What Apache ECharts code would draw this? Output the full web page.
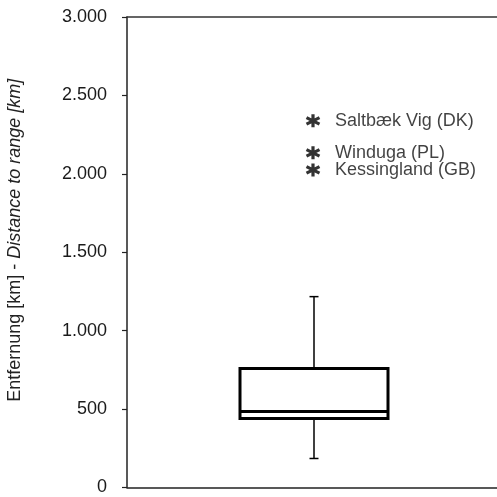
<!DOCTYPE html>
<html><head><meta charset="utf-8">
<script src="https://cdn.jsdelivr.net/npm/echarts@6/dist/echarts.min.js"></script>
<style>html,body{margin:0;padding:0;background:#fff}#c{width:497px;height:497px}</style>
</head><body><div id="c"></div>
<script>
const categories = [''];
// [lowerWhisker, Q1, median, Q3, upperWhisker]
const boxValues = [[185, 440, 484, 758, 1217]];
const outlierNames = ['Saltbæk Vig (DK)', 'Winduga (PL)', 'Kessingland (GB)'];
const outlierValues = [2338, 2134, 2025];
const yTicks = [0, 500, 1000, 1500, 2000, 2500, 3000];

const FONT = 'Liberation Sans, Arial, sans-serif';
const fmt = v => v === 0 ? '0' : String(v).replace(/\B(?=(\d{3})+(?!\d))/g, '.');
const star = 'path://M0,-10L0,10M-8.7,-5L8.7,5M-8.7,5L8.7,-5';

const chart = echarts.init(document.getElementById('c'), null, {renderer: 'canvas'});
chart.setOption({
  animation: false,
  grid: {left: 127, right: 0, top: 17, bottom: 9.5, containLabel: false, outerBoundsMode: 'none'},
  xAxis: [
    {type: 'category', data: categories, position: 'bottom',
     axisLine: {show: true, lineStyle: {color: '#222', width: 1.5}},
     axisTick: {show: false}, axisLabel: {show: false}, splitLine: {show: false}},
    {type: 'category', data: categories, position: 'top',
     axisLine: {show: true, lineStyle: {color: '#333', width: 1.5}},
     axisTick: {show: false}, axisLabel: {show: false}, splitLine: {show: false}}
  ],
  yAxis: {
    type: 'value', min: yTicks[0], max: yTicks[yTicks.length - 1], interval: 500,
    axisLine: {show: true, lineStyle: {color: '#222', width: 1.5}},
    axisTick: {show: true, length: 5, inside: false, lineStyle: {color: '#222', width: 1.2}},
    splitLine: {show: false},
    axisLabel: {formatter: fmt, color: '#1a1a1a', fontSize: 18, fontFamily: FONT, margin: 20},
    name: '{n|Entfernung [km] - }{i|Distance to range [km]}',
    nameLocation: 'middle', nameGap: 103, nameRotate: 90,
    nameTextStyle: {
      padding: [0, 0, 0, 24],
      rich: {
        n: {fontSize: 18, color: '#222', fontFamily: FONT},
        i: {fontSize: 18, color: '#222', fontStyle: 'italic', fontFamily: FONT}
      }
    }
  },
  series: [
    {
      type: 'custom',
      data: boxValues.map((b, i) => [i].concat(b)),
      encode: {x: 0, y: [1, 2, 3, 4, 5]},
      renderItem: function (params, api) {
        const x = api.value(0);
        const lo = api.coord([x, api.value(1)]);
        const q1 = api.coord([x, api.value(2)]);
        const md = api.coord([x, api.value(3)]);
        const q3 = api.coord([x, api.value(4)]);
        const hi = api.coord([x, api.value(5)]);
        const bw = api.size([1, 0])[0] * 0.40;
        const cx = lo[0] + 2;
        const cap = 4.5;
        const thick = {stroke: '#000', lineWidth: 3, fill: null};
        const thin = {stroke: '#000', lineWidth: 1.5};
        return {
          type: 'group',
          children: [
            {type: 'line', shape: {x1: cx, y1: q3[1], x2: cx, y2: hi[1]}, style: thin},
            {type: 'line', shape: {x1: cx - cap, y1: hi[1], x2: cx + cap, y2: hi[1]}, style: thin},
            {type: 'line', shape: {x1: cx, y1: q1[1], x2: cx, y2: lo[1]}, style: thin},
            {type: 'line', shape: {x1: cx - cap, y1: lo[1], x2: cx + cap, y2: lo[1]}, style: thin},
            {type: 'rect', shape: {x: cx - bw / 2, y: q3[1], width: bw, height: q1[1] - q3[1]}, style: {stroke: '#000', lineWidth: 3, fill: '#fff'}},
            {type: 'line', shape: {x1: cx - bw / 2, y1: md[1], x2: cx + bw / 2, y2: md[1]}, style: thick}
          ]
        };
      }
    },
    {
      type: 'scatter',
      data: outlierValues.map((v, i) => ({value: [0, v], name: outlierNames[i]})),
      symbol: star, symbolSize: [13, 13], symbolOffset: [1, 0],
      itemStyle: {color: 'none', borderColor: '#000', borderWidth: 3.2},
      label: {
        show: true, position: 'right', distance: 13,
        formatter: p => p.name,
        color: '#111', fontSize: 18, fontFamily: FONT
      }
    }
  ]
});
</script></body></html>
